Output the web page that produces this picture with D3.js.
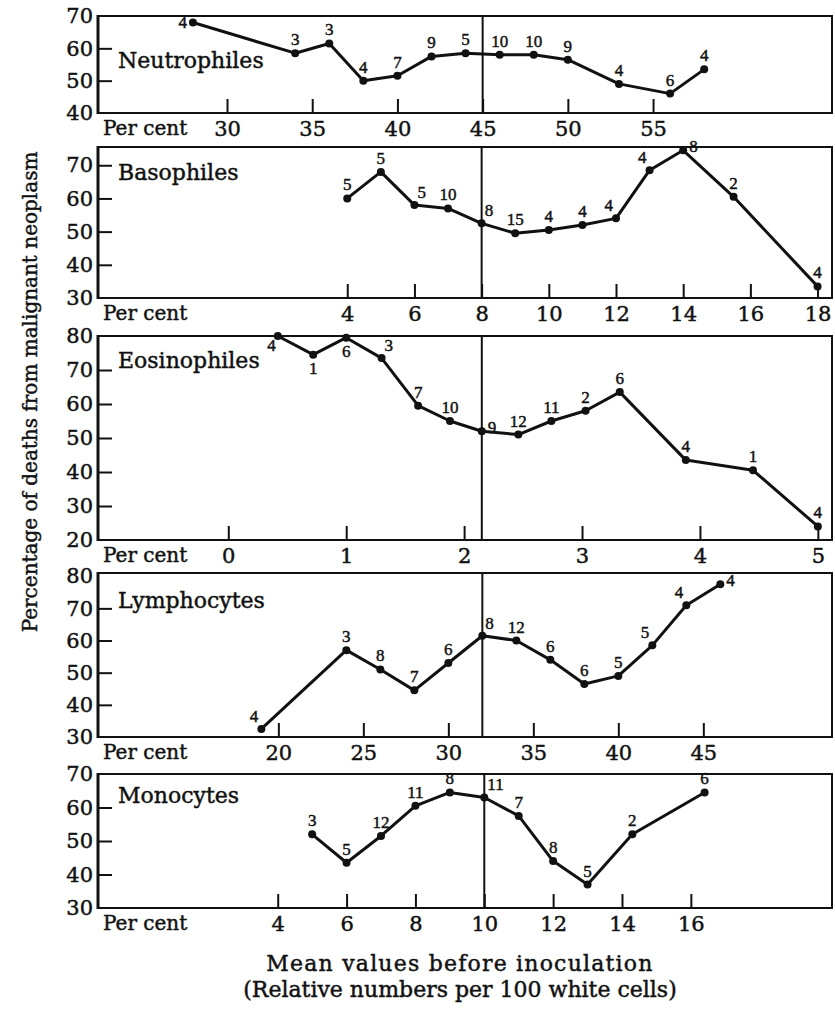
<!DOCTYPE html>
<html>
<head>
<meta charset="utf-8">
<script src="https://cdn.jsdelivr.net/npm/d3@7"></script>
<style>
  body { margin: 0; background: #fff; }
  svg text { font-family: "DejaVu Serif", serif; fill: #111; stroke: #111; stroke-width: 0.45px; }
  .num { font-family: "Liberation Serif", serif; }
</style>
</head>
<body>
<div id="chart"></div>
<script>
// ---- data ----
// Neutrophiles
const neutroX = [28, 34, 36, 38, 40, 42, 44, 46, 48, 50, 53, 56, 58];
const neutroY = [68, 58.5, 61.5, 50, 51.5, 57.5, 58.5, 58, 58, 56.5, 49, 46, 53.5];
const neutroN = [4, 3, 3, 4, 7, 9, 5, 10, 10, 9, 4, 6, 4];
const neutroTicks = [30, 35, 40, 45, 50, 55];
const neutroYTicks = [40, 50, 60, 70];

// Basophiles
const basoX = [4, 5, 6, 7, 8, 9, 10, 11, 12, 13, 14, 15.5, 18];
const basoY = [60, 68, 58, 57, 52.5, 49.5, 50.5, 52, 54, 68.5, 74.5, 60.5, 33.5];
const basoN = [5, 5, 5, 10, 8, 15, 4, 4, 4, 4, 8, 2, 4];
const basoTicks = [4, 6, 8, 10, 12, 14, 16, 18];
const basoYTicks = [30, 40, 50, 60, 70];

// Eosinophiles
const eosX = [0.42, 0.72, 1.0, 1.3, 1.61, 1.88, 2.15, 2.46, 2.74, 3.03, 3.32, 3.88, 4.45, 5.0];
const eosY = [80, 74.5, 79.5, 73.5, 59.5, 55, 52, 51, 55, 58, 63.5, 43.5, 40.5, 24];
const eosN = [4, 1, 6, 3, 7, 10, 9, 12, 11, 2, 6, 4, 1, 4];
const eosTicks = [0, 1, 2, 3, 4, 5];
const eosYTicks = [20, 30, 40, 50, 60, 70, 80];

// Lymphocytes
const lymphX = [19, 24, 26, 28, 30, 32, 34, 36, 38, 40, 42, 44, 46];
const lymphY = [32.5, 57, 51, 44.5, 53, 61.5, 60, 54, 46.5, 49, 58.5, 71, 77.5];
const lymphN = [4, 3, 8, 7, 6, 8, 12, 6, 6, 5, 5, 4, 4];
const lymphTicks = [20, 25, 30, 35, 40, 45];
const lymphYTicks = [30, 40, 50, 60, 70, 80];

// Monocytes
const monoX = [5, 6, 7, 8, 9, 10, 11, 12, 13, 14.3, 16.4];
const monoY = [52, 43.5, 51.5, 60.5, 64.5, 63, 57.5, 44, 37, 52, 64.5];
const monoN = [3, 5, 12, 11, 8, 11, 7, 8, 5, 2, 6];
const monoTicks = [4, 6, 8, 10, 12, 14, 16];
const monoYTicks = [30, 40, 50, 60, 70];

// mean value before inoculation (the vertical line in each panel)
const names = ['Neutrophiles', 'Basophiles', 'Eosinophiles', 'Lymphocytes', 'Monocytes'];
const meanLines = [45, 8, 2.15, 32, 10];

// where each count label sits relative to its point
const neutroLab = ['w','n','n','n','n','n','n','n','n','n','n','n','n'];
const basoLab = ['n','n','ne','n','ne','n','n','n','nw','nw','e','n','n'];
const eosLab = ['sw','s','s','ne','n','n','e','n','n','n','n','n','n','n'];
const lymphLab = ['nw','n','n','n','n','ne','n','n','n','n','nw','nw','e'];
const monoLab = ['n','n','n','n','n','ne','n','n','n','n','n'];

// ---- layout ----
const W = 835, H = 1011;
const left = 98, right = 832;

const panels = [
  { name: names[0], xs: neutroX, ys: neutroY, ns: neutroN, lab: neutroLab, ticks: neutroTicks, yTicks: neutroYTicks,
    mean: meanLines[0], top: 16, bottom: 113, xDomain: [22.43, 65.5], yDomain: [40, 70], titleY: 60 },
  { name: names[1], xs: basoX, ys: basoY, ns: basoN, lab: basoLab, ticks: basoTicks, yTicks: basoYTicks,
    mean: meanLines[1], top: 147, bottom: 298, xDomain: [-3.42, 18.43], yDomain: [30, 75.5], titleY: 172 },
  { name: names[2], xs: eosX, ys: eosY, ns: eosN, lab: eosLab, ticks: eosTicks, yTicks: eosYTicks,
    mean: meanLines[2], top: 336, bottom: 540, xDomain: [-1.105, 5.12], yDomain: [20, 80], titleY: 360 },
  { name: names[3], xs: lymphX, ys: lymphY, ns: lymphN, lab: lymphLab, ticks: lymphTicks, yTicks: lymphYTicks,
    mean: meanLines[3], top: 573, bottom: 737, xDomain: [9.39, 52.57], yDomain: [30, 81], titleY: 600 },
  { name: names[4], xs: monoX, ys: monoY, ns: monoN, lab: monoLab, ticks: monoTicks, yTicks: monoYTicks,
    mean: meanLines[4], top: 774, bottom: 908, xDomain: [-1.22, 20.1], yDomain: [30, 70], titleY: 795 }
];

const svg = d3.select('#chart').append('svg')
  .attr('width', W).attr('height', H)
  .attr('viewBox', `0 0 ${W} ${H}`);

const line = d3.line().x(d => d.px).y(d => d.py);

// label offsets by compass code
const labOff = {
  n:  { dx: 0,  dy: -8, anchor: 'middle' },
  ne: { dx: 3,  dy: -7, anchor: 'start' },
  nw: { dx: -3, dy: -7, anchor: 'end' },
  e:  { dx: 6,  dy: 2,  anchor: 'start' },
  w:  { dx: -6, dy: 6,  anchor: 'end' },
  s:  { dx: 0,  dy: 19, anchor: 'middle' },
  sw: { dx: -2, dy: 15, anchor: 'end' }
};

panels.forEach(p => {
  const x = d3.scaleLinear().domain(p.xDomain).range([left, right]);
  const y = d3.scaleLinear().domain(p.yDomain).range([p.bottom, p.top]);
  const g = svg.append('g');

  // frame
  g.append('rect')
    .attr('x', left).attr('y', p.top)
    .attr('width', right - left).attr('height', p.bottom - p.top)
    .attr('fill', 'none').attr('stroke', '#111').attr('stroke-width', 2);
  g.append('line')
    .attr('x1', left).attr('x2', left).attr('y1', p.top - 1).attr('y2', p.bottom + 1)
    .attr('stroke', '#111').attr('stroke-width', 3);

  // mean line
  g.append('line')
    .attr('x1', x(p.mean)).attr('x2', x(p.mean))
    .attr('y1', p.top).attr('y2', p.bottom)
    .attr('stroke', '#111').attr('stroke-width', 2);

  // bottom axis, ticks pointing inwards
  const xAxis = g.append('g')
    .attr('transform', `translate(0,${p.bottom})`)
    .call(d3.axisBottom(x).tickValues(p.ticks).tickSizeInner(-14).tickSizeOuter(0).tickPadding(8)
      .tickFormat(d3.format('d')));
  xAxis.select('.domain').remove();
  xAxis.selectAll('.tick line').attr('stroke', '#111').attr('stroke-width', 2);
  xAxis.selectAll('.tick text').attr('font-size', 21).attr('font-family', '"DejaVu Serif", serif').attr('fill', '#111');

  g.append('text')
    .attr('x', left + 5).attr('y', p.bottom + 8).attr('dy', '0.71em')
    .attr('font-size', 20).text('Per cent');

  // left axis
  const yAxis = g.append('g')
    .attr('transform', `translate(${left},0)`)
    .call(d3.axisLeft(y).tickValues(p.yTicks).tickSizeInner(-14).tickSizeOuter(0).tickPadding(5));
  yAxis.select('.domain').remove();
  yAxis.selectAll('.tick line').attr('stroke', '#111').attr('stroke-width', 2)
    .filter(d => d === p.yTicks[0] || d === p.yTicks[p.yTicks.length - 1] && y(d) - p.top < 6)
    .remove();
  yAxis.selectAll('.tick text').attr('font-size', 21).attr('font-family', '"DejaVu Serif", serif').attr('fill', '#111');

  // title
  g.append('text')
    .attr('x', left + 20).attr('y', p.titleY).attr('dy', '0.35em')
    .attr('font-size', 22).text(p.name);

  // series
  const pts = p.xs.map((v, i) => ({ px: x(v), py: y(p.ys[i]), n: p.ns[i], lab: p.lab[i] }));
  g.append('path').datum(pts)
    .attr('d', line)
    .attr('fill', 'none').attr('stroke', '#111').attr('stroke-width', 3)
    .attr('stroke-linejoin', 'round');
  g.selectAll('circle.pt').data(pts).join('circle')
    .attr('class', 'pt')
    .attr('cx', d => d.px).attr('cy', d => d.py).attr('r', 4)
    .attr('fill', '#111');
  g.selectAll('text.cnt').data(pts).join('text')
    .attr('class', 'cnt num')
    .attr('x', d => d.px + labOff[d.lab].dx)
    .attr('y', d => d.py + labOff[d.lab].dy)
    .attr('text-anchor', d => labOff[d.lab].anchor)
    .attr('font-size', 17)
    .text(d => d.n);
});

// axis titles
svg.append('text')
  .attr('transform', `translate(30,392) rotate(-90)`)
  .attr('text-anchor', 'middle').attr('dy', '0.35em')
  .attr('font-size', 20)
  .text('Percentage of deaths from malignant neoplasm');

svg.append('text')
  .attr('x', 460).attr('y', 971).attr('text-anchor', 'middle')
  .attr('font-size', 22).attr('letter-spacing', 1.2)
  .text('Mean values before inoculation');
svg.append('text')
  .attr('x', 460).attr('y', 997).attr('text-anchor', 'middle')
  .attr('font-size', 22)
  .text('(Relative numbers per 100 white cells)');
</script>
</body>
</html>
